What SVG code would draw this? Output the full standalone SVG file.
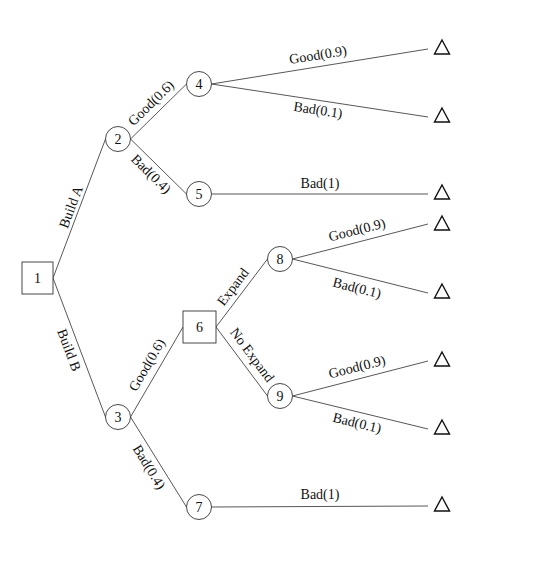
<svg xmlns="http://www.w3.org/2000/svg" width="540" height="564" viewBox="0 0 540 564">
<defs>
<style>
.n{fill:#fff;stroke:#333;stroke-width:0.9}
.t{fill:#fff;stroke:#111;stroke-width:1.4}
.e{stroke:#444;stroke-width:0.9;fill:none}
text{font-family:"Liberation Serif","DejaVu Serif",serif;font-size:14px;fill:#111;text-anchor:middle;dominant-baseline:central}
</style>
</defs>
<rect width="540" height="564" fill="#fff"/>
<g id="connectors">
<line class="e" x1="53" y1="278" x2="105.5" y2="139"/>
<line class="e" x1="53" y1="278" x2="105.5" y2="417"/>
<line class="e" x1="130.5" y1="139" x2="186.5" y2="84"/>
<line class="e" x1="130.5" y1="139" x2="186.5" y2="194"/>
<line class="e" x1="211.5" y1="84" x2="428" y2="49"/>
<line class="e" x1="211.5" y1="84" x2="428" y2="117"/>
<line class="e" x1="211.5" y1="194" x2="428" y2="194"/>
<line class="e" x1="130.5" y1="417" x2="183" y2="327"/>
<line class="e" x1="130.5" y1="417" x2="186.5" y2="507"/>
<line class="e" x1="216" y1="327" x2="267.5" y2="259"/>
<line class="e" x1="216" y1="327" x2="267.5" y2="396"/>
<line class="e" x1="292.5" y1="259" x2="428" y2="224"/>
<line class="e" x1="292.5" y1="259" x2="428" y2="293"/>
<line class="e" x1="292.5" y1="396" x2="428" y2="361"/>
<line class="e" x1="292.5" y1="396" x2="428" y2="429"/>
<line class="e" x1="211.5" y1="507" x2="428" y2="506"/>
<text transform="translate(71,207) rotate(-69.3)">Build A</text>
<text transform="translate(69,350) rotate(69.3)">Build B</text>
<text transform="translate(151,103) rotate(-44.5)">Good(0.6)</text>
<text transform="translate(151,174) rotate(44.5)">Bad(0.4)</text>
<text transform="translate(318,55) rotate(-9.2)">Good(0.9)</text>
<text transform="translate(318,110) rotate(8.7)">Bad(0.1)</text>
<text transform="translate(320,183)">Bad(1)</text>
<text transform="translate(147,365) rotate(-59.7)">Good(0.6)</text>
<text transform="translate(149,467) rotate(58.1)">Bad(0.4)</text>
<text transform="translate(233,287) rotate(-52.9)">Expand</text>
<text transform="translate(252,355) rotate(53.3)">No Expand</text>
<text transform="translate(357,230) rotate(-14.5)">Good(0.9)</text>
<text transform="translate(357,288) rotate(14.1)">Bad(0.1)</text>
<text transform="translate(357,367) rotate(-14.5)">Good(0.9)</text>
<text transform="translate(357,423) rotate(13.7)">Bad(0.1)</text>
<text transform="translate(320,494)">Bad(1)</text>
</g>
<g id="n1"><rect class="n" x="22" y="262" width="31" height="32"/><text x="37.5" y="278">1</text></g>
<g id="n2"><circle class="n" cx="118" cy="139" r="12.5"/><text x="118" y="139">2</text></g>
<g id="n3"><circle class="n" cx="118" cy="417" r="12.5"/><text x="118" y="417">3</text></g>
<g id="n4"><circle class="n" cx="199" cy="84" r="12.5"/><text x="199" y="84">4</text></g>
<g id="n5"><circle class="n" cx="199" cy="194" r="12.5"/><text x="199" y="194">5</text></g>
<g id="n6"><rect class="n" x="183" y="311" width="33" height="32"/><text x="199.5" y="327">6</text></g>
<g id="n7"><circle class="n" cx="199" cy="507" r="12.5"/><text x="199" y="507">7</text></g>
<g id="n8"><circle class="n" cx="280" cy="259" r="12.5"/><text x="280" y="259">8</text></g>
<g id="n9"><circle class="n" cx="280" cy="396" r="12.5"/><text x="280" y="396">9</text></g>
<g id="t1"><polygon class="t" points="442,40 449.5,54 434.5,54"/></g>
<g id="t2"><polygon class="t" points="442,108 449.5,122 434.5,122"/></g>
<g id="t3"><polygon class="t" points="442,185 449.5,199 434.5,199"/></g>
<g id="t4"><polygon class="t" points="442,216 449.5,230 434.5,230"/></g>
<g id="t5"><polygon class="t" points="442,284 449.5,298 434.5,298"/></g>
<g id="t6"><polygon class="t" points="442,352 449.5,366 434.5,366"/></g>
<g id="t7"><polygon class="t" points="442,420 449.5,434 434.5,434"/></g>
<g id="t8"><polygon class="t" points="442,497 449.5,511 434.5,511"/></g>
</svg>
